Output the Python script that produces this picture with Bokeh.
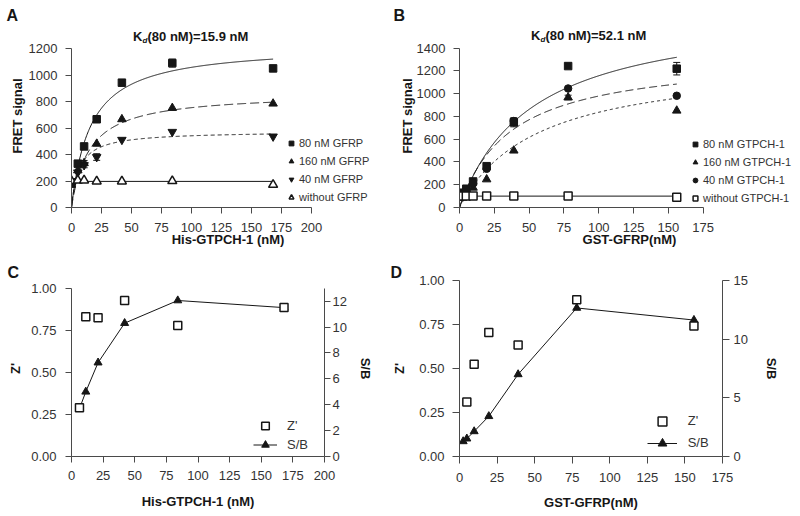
import numpy as np
from bokeh.plotting import figure
from bokeh.models import (Range1d, LinearAxis, FixedTicker, Label, Legend, LegendItem,
                          Whisker, ColumnDataSource, TeeHead, PrintfTickFormatter)
from bokeh.layouts import row, column
from bokeh.embed import file_html
from bokeh.resources import INLINE

# ---------------- data ----------------
# Panel A: titration of His-GTPCH-1
a_x = [0, 5.25, 10.5, 21, 42, 84, 168]
a_80 = [180, 331, 461, 666, 942, 1090, 1050]
a_160 = [190, 280, 335, 481, 666, 751, 784]
a_40 = [200, 265, 320, 381, 511, 571, 536]
a_none = [200, 205, 205, 197, 197, 200, 172]
a_err_x = [10.5, 10.5, 21, 84]
a_err_y = [335, 320, 381, 1090]
a_err = [20, 20, 25, 30]
a_fit_kd = [15.9, 14.8, 6.4]          # solid, dashed, dotted
a_fit_bmax = [1226, 865, 576]
a_none_level = 197
a_labels = ["80 nM GFRP", "160 nM GFRP", "40 nM GFRP", "without GFRP"]
a_xticks = [0, 25, 50, 75, 100, 125, 150, 175, 200]
a_yticks = [0, 200, 400, 600, 800, 1000, 1200]

# Panel B: titration of GST-GFRP
b_x = [0, 2.44, 4.88, 9.75, 19.5, 39, 78, 156]
b_80 = [100, 130, 165, 229, 363, 749, 1243, 1220]
b_160 = [100, 110, 130, 174, 247, 500, 967, 851]
b_40 = [100, 115, 150, 210, 340, 760, 1046, 982]
b_none = [100, 100, 100, 100, 100, 100, 100, 90]
b_err_x = [19.5, 39, 78, 156]
b_err_y = [363, 749, 967, 1220]
b_err = [15, 40, 20, 55]
b_fit_kd = [52.1, 37.0, 55.7]
b_fit_bmax = [1761, 1342, 1303]
b_none_level = 100
b_labels = ["80 nM GTPCH-1", "160 nM GTPCH-1", "40 nM GTPCH-1", "without GTPCH-1"]
b_xticks = [0, 25, 50, 75, 100, 125, 150, 175]
b_yticks = [0, 200, 400, 600, 800, 1000, 1200, 1400]

# Panel C
c_x = [6.3, 11.3, 21, 42, 84, 168]
c_z = [0.289, 0.831, 0.825, 0.927, 0.778, 0.886]
c_sb = [3.7, 5.0, 7.25, 10.3, 12.05, 11.5]
c_xticks = [0, 25, 50, 75, 100, 125, 150, 175, 200]
c_zticks = [0, 0.25, 0.5, 0.75, 1.0]
c_sbticks = [0, 2, 4, 6, 8, 10, 12]

# Panel D
d_z_x = [4.88, 9.75, 19.5, 39, 78, 156]
d_z = [0.309, 0.524, 0.705, 0.634, 0.890, 0.741]
d_sb_x = [2.44, 4.88, 9.75, 19.5, 39, 78, 156]
d_sb = [1.29, 1.52, 2.14, 3.43, 7.0, 12.66, 11.63]
d_xticks = [0, 25, 50, 75, 100, 125, 150, 175]
d_zticks = [0, 0.25, 0.5, 0.75, 1.0]
d_sbticks = [0, 5, 10, 15]

# ---------------- style ----------------
FONT = "Liberation Sans"
AXC = "#4a4a4a"
TXC = "#333333"
INK = "#161616"


def make_fig(letter, letter_offset, letter_standoff, w, h, bl, br, bt, bb, xr, yr):
    p = figure(width=w, height=h, x_range=Range1d(*xr), y_range=Range1d(*yr),
               output_backend="svg", toolbar_location=None, title=letter,
               min_border_left=bl, min_border_right=br,
               min_border_top=bt, min_border_bottom=bb)
    p.title.align = "left"
    p.title.offset = letter_offset
    p.title.standoff = letter_standoff
    p.title.text_font = FONT
    p.title.text_font_size = "16px"
    p.title.text_font_style = "bold"
    p.title.text_color = INK
    p.outline_line_color = None
    p.xgrid.visible = False
    p.ygrid.visible = False
    p.background_fill_color = "white"
    p.border_fill_color = "white"
    return p


def style_axis(ax, tick_len, standoff, label, label_standoff):
    ax.axis_line_color = AXC
    ax.axis_line_width = 1
    ax.major_tick_line_color = AXC
    ax.major_tick_in = 0
    ax.major_tick_out = tick_len
    ax.minor_tick_line_color = None
    ax.major_label_text_font = FONT
    ax.major_label_text_font_size = "13px"
    ax.major_label_text_color = TXC
    ax.major_label_standoff = standoff
    ax.axis_label = label
    ax.axis_label_text_font = FONT
    ax.axis_label_text_font_size = "13px"
    ax.axis_label_text_font_style = "bold"
    ax.axis_label_text_color = INK
    ax.axis_label_standoff = label_standoff


def lab(p, text, sx, sy, size="13px", style="bold"):
    p.add_layout(Label(x=sx, y=sy, x_units="screen", y_units="screen", text=text,
                       text_font=FONT, text_font_size=size, text_font_style=style,
                       text_align="left", text_baseline="middle", text_color=INK))


def whiskers(p, xs, ys, es):
    ys = np.array(ys, dtype=float)
    es = np.array(es, dtype=float)
    src = ColumnDataSource(dict(base=xs, lower=ys - es, upper=ys + es))
    w = Whisker(source=src, base="base", lower="lower", upper="upper", dimension="height",
                line_color=INK, line_width=1,
                lower_head=TeeHead(size=7, line_color=INK, line_width=1),
                upper_head=TeeHead(size=7, line_color=INK, line_width=1))
    p.add_layout(w)


def legend(p, items, vx, vy, gw, gh, standoff, size):
    lg = Legend(items=items, location=(vx, vy), orientation="vertical",
                glyph_width=gw, glyph_height=gh, label_height=gh, spacing=0,
                padding=0, margin=0, label_standoff=standoff,
                label_text_font=FONT, label_text_font_size=size,
                label_text_color=TXC, border_line_color=None,
                background_fill_alpha=0)
    p.add_layout(lg)


W1, W2, H = 386, 414, 258

# ---------------- Panel A ----------------
# frame: x=0 at page 71, x=200 at 311; y=0 at page 207, y=1200 at 48
kAx, kAy = 240 / 200, 159 / 1200
pA = make_fig("A", -65, 2, W1, H, 71, 2, 24, 51,
              (0, (384 - 71) / kAx), (0, (207 - 24) / kAy))
style_axis(pA.xaxis[0], 6, 9, "His-GTPCH-1 (nM)", -3)
style_axis(pA.yaxis[0], 6, 8, "FRET signal", 1)
pA.xaxis.ticker = FixedTicker(ticks=a_xticks)
pA.yaxis.ticker = FixedTicker(ticks=a_yticks)
pA.xaxis.bounds = (0, 200)
pA.yaxis.bounds = (0, 1200)

gx = np.linspace(0, max(a_x), 400)
for kd, bm, dash in zip(a_fit_kd, a_fit_bmax, ["solid", "9 4", "4 3"]):
    pA.line(gx, bm * gx / (kd + gx), line_color=INK, line_width=1, line_dash=dash)
pA.line([0, max(a_x)], [a_none_level, a_none_level], line_color=INK, line_width=1)
whiskers(pA, a_err_x, a_err_y, a_err)
rA1 = pA.scatter(a_x, a_80, marker="square", size=7.5, color=INK)
rA2 = pA.scatter(a_x, a_160, marker="triangle", size=8.5, color=INK)
rA3 = pA.scatter(a_x, a_40, marker="inverted_triangle", size=8.5, color=INK)
rA4 = pA.scatter(a_x, a_none, marker="triangle", size=9, fill_color="white",
                 line_color=INK, line_width=1.5)
legend(pA, [LegendItem(label=t, renderers=[r]) for t, r in zip(a_labels, [rA1, rA2, rA3, rA4])],
       214, 0.7, 12, 18, 2, "11px")
FL, FB = 71, 207
lab(pA, "K", 132.5 - FL, FB - 35.5)
lab(pA, "d", 142 - FL, FB - 39.5, size="8px", style="bold italic")
lab(pA, "(80 nM)=15.9 nM", 147 - FL, FB - 35.5)

# ---------------- Panel B ----------------
# frame: x=0 at page 459, x=175 at 702.7; y=0 at 207, y=1400 at 47.7
kBx, kBy = 243.7 / 175, (207 - 47.7) / 1400
pB = make_fig("B", -66, 2, W2, H, 73, 1, 24, 51,
              (0, (799 - 459) / kBx), (0, (207 - 24) / kBy))
style_axis(pB.xaxis[0], 6, 9, "GST-GFRP(nM)", -3)
style_axis(pB.yaxis[0], 6, 8, "FRET signal", -1)
pB.xaxis.ticker = FixedTicker(ticks=b_xticks)
pB.yaxis.ticker = FixedTicker(ticks=b_yticks)
pB.xaxis.bounds = (0, 175)
pB.yaxis.bounds = (0, 1400)

gx = np.linspace(0, max(b_x), 400)
for kd, bm, dash in zip(b_fit_kd, b_fit_bmax, ["solid", "8 4", "3 3"]):
    pB.line(gx, bm * gx / (kd + gx), line_color=INK, line_width=1, line_dash=dash)
pB.line([0, max(b_x)], [b_none_level, b_none_level], line_color=INK, line_width=1)
whiskers(pB, b_err_x, b_err_y, b_err)
rB1 = pB.scatter(b_x, b_80, marker="square", size=7.5, color=INK)
rB2 = pB.scatter(b_x, b_160, marker="triangle", size=8.5, color=INK)
rB3 = pB.scatter(b_x, b_40, marker="circle", size=7.5, color=INK)
rB4 = pB.scatter(b_x, b_none, marker="square", size=8, fill_color="white",
                 line_color=INK, line_width=1.5)
legend(pB, [LegendItem(label=t, renderers=[r]) for t, r in zip(b_labels, [rB1, rB2, rB3, rB4])],
       230, 0.3, 12, 18, 2, "11px")
FL, FB = 459, 207
lab(pB, "K", 530.5 - FL, FB - 35)
lab(pB, "d", 540 - FL, FB - 39, size="8px", style="bold italic")
lab(pB, "(80 nM)=52.1 nM", 545 - FL, FB - 35)

# ---------------- Panel C ----------------
# frame top at page 280 (shared with D); Z'=0 at 456, Z'=1 at 287.7
c_top = (456 - 280) / (456 - 287.7)
pC = make_fig("C", -64, 0, W1, H, 71, 62, 22, 60, (0, 200), (0, c_top))
style_axis(pC.xaxis[0], 6, 8, "His-GTPCH-1 (nM)", 11)
style_axis(pC.yaxis[0], 6, 9, "Z'", 5)
pC.xaxis.ticker = FixedTicker(ticks=c_xticks)
pC.yaxis.ticker = FixedTicker(ticks=c_zticks)
pC.yaxis.formatter = PrintfTickFormatter(format="%.2f")
pC.yaxis.bounds = (0, 1)
pC.extra_y_ranges = {"sb": Range1d(0, 13 * c_top)}
axC = LinearAxis(y_range_name="sb", ticker=FixedTicker(ticks=c_sbticks))
style_axis(axC, 6, 2, "S/B", 8)
axC.bounds = (0, 13)
pC.add_layout(axC, "right")

lC = pC.line(c_x, c_sb, y_range_name="sb", line_color=INK, line_width=1)
tC = pC.scatter(c_x, c_sb, y_range_name="sb", marker="triangle", size=8, color=INK)
sC = pC.scatter(c_x, c_z, marker="square", size=8, fill_color="white",
                line_color=INK, line_width=1.5)
legend(pC, [LegendItem(label="Z'", renderers=[sC]), LegendItem(label="S/B", renderers=[lC, tC])],
       182, 2.5, 24, 19, 10, "13px")

# ---------------- Panel D ----------------
pD = make_fig("D", -69, 0, W2, H, 73, 78, 22, 60, (0, 175), (0, 1))
style_axis(pD.xaxis[0], 7, 9, "GST-GFRP(nM)", 10)
style_axis(pD.yaxis[0], 7, 8, "Z'", 9)
pD.xaxis.ticker = FixedTicker(ticks=d_xticks)
pD.yaxis.ticker = FixedTicker(ticks=d_zticks)
pD.yaxis.formatter = PrintfTickFormatter(format="%.2f")
pD.extra_y_ranges = {"sb": Range1d(0, 15)}
axD = LinearAxis(y_range_name="sb", ticker=FixedTicker(ticks=d_sbticks))
style_axis(axD, 7, 4, "S/B", 13)
pD.add_layout(axD, "right")

lD = pD.line(d_sb_x, d_sb, y_range_name="sb", line_color=INK, line_width=1)
tD = pD.scatter(d_sb_x, d_sb, y_range_name="sb", marker="triangle", size=8, color=INK)
sD = pD.scatter(d_z_x, d_z, marker="square", size=8, fill_color="white",
                line_color=INK, line_width=1.5)
legend(pD, [LegendItem(label="Z'", renderers=[sD]), LegendItem(label="S/B", renderers=[lD, tD])],
       187.7, 2.3, 30, 22, 11, "13px")

layout = column(row(pA, pB), row(pC, pD))
open("out.html", "w").write(file_html(layout, INLINE))
